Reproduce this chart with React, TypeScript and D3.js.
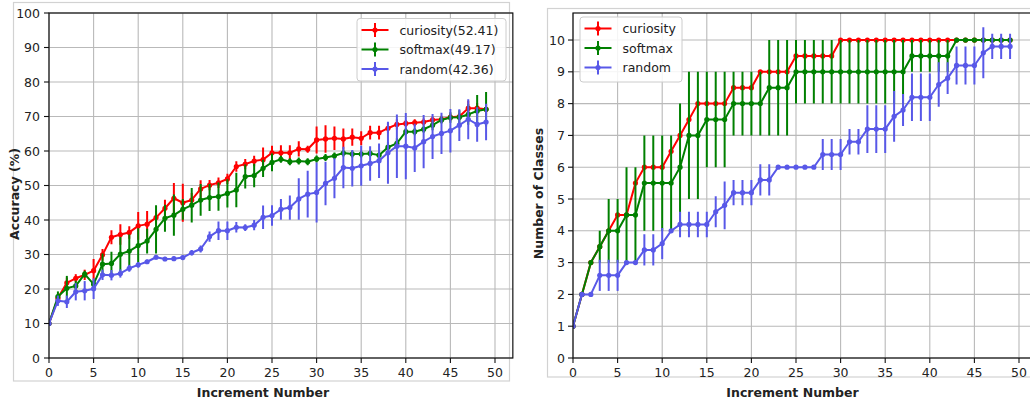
import React from 'react';
import * as d3 from 'd3';

// ---------- data ----------
const xTicks = [0, 5, 10, 15, 20, 25, 30, 35, 40, 45, 50];
const accTicks = [0, 10, 20, 30, 40, 50, 60, 70, 80, 90, 100];
const clsTicks = [0, 1, 2, 3, 4, 5, 6, 7, 8, 9, 10];

const accLabels = ['curiosity(52.41)', 'softmax(49.17)', 'random(42.36)'];
const clsLabels = ['curiosity', 'softmax', 'random'];

const accCuriosity = [10, 17.3, 21.8, 23.1, 24.1, 25.3, 29.9, 35.0, 35.8, 36.4, 38.3, 38.8, 40.7, 43.4, 46.3, 45.0, 45.8, 49.0, 50.1, 50.8, 51.9, 55.5, 56.2, 57.1, 57.5, 59.5, 59.5, 59.5, 60.6, 60.5, 63.2, 63.5, 63.7, 63.5, 64.0, 63.7, 65.3, 65.3, 66.6, 67.7, 68.0, 68.2, 68.4, 69.0, 69.2, 69.8, 70.0, 72.4, 72.4, 72.1];
const accCuriosityErr = [0, 1.2, 1.5, 1.2, 1.5, 3.4, 1.7, 2.0, 3.0, 1.8, 4.0, 3.8, 2.0, 2.5, 4.4, 5.5, 2.0, 2.5, 1.5, 1.5, 1.5, 1.5, 1.5, 1.5, 3.5, 2.0, 2.2, 2.2, 2.2, 1.0, 3.9, 4.0, 3.4, 3.0, 2.5, 2.0, 2.0, 2.0, 1.5, 1.5, 1.0, 1.0, 1.0, 1.0, 1.0, 1.0, 1.0, 2.2, 1.5, 1.5];
const accSoftmax = [10, 17.8, 20.2, 20.9, 24.3, 21.4, 27.2, 27.4, 30.1, 31.0, 32.6, 33.9, 37.3, 40.5, 41.4, 43.1, 44.3, 45.8, 46.5, 46.8, 47.7, 48.7, 52.6, 52.9, 55.0, 56.7, 57.6, 56.9, 57.1, 56.9, 57.7, 58.1, 58.6, 59.4, 59.1, 59.1, 59.3, 58.8, 61.1, 62.2, 65.6, 65.6, 66.3, 67.5, 69.0, 69.7, 69.8, 70.6, 71.6, 72.1];
const accSoftmaxErr = [0, 1.5, 3.6, 1.5, 1.0, 1.0, 3.1, 3.4, 5.0, 4.8, 5.0, 3.6, 7.0, 3.9, 6.0, 3.0, 5.0, 4.6, 3.9, 4.1, 4.1, 5.0, 3.5, 3.4, 2.5, 2.6, 1.0, 1.0, 1.0, 1.0, 1.0, 1.0, 1.0, 1.0, 1.0, 1.0, 1.0, 1.0, 1.5, 1.5, 1.0, 1.0, 1.0, 1.5, 1.0, 1.5, 2.0, 3.0, 4.6, 5.0];
const accRandom = [10, 16.6, 16.3, 19.2, 19.5, 20.1, 24.1, 24.0, 24.5, 26.0, 27.0, 27.9, 29.2, 28.7, 28.8, 29.1, 30.5, 31.6, 35.2, 36.9, 36.9, 37.9, 37.8, 38.5, 40.8, 41.3, 43.1, 43.6, 46.1, 47.5, 48.0, 50.6, 52.1, 55.2, 55.0, 55.7, 56.4, 57.2, 59.5, 61.4, 61.4, 60.9, 62.7, 64.2, 65.1, 65.9, 67.5, 69.2, 67.7, 68.4];
const accRandomErr = [0, 1.5, 1.8, 2.5, 2.8, 3.0, 1.5, 1.5, 1.2, 1.0, 0.8, 0.6, 0.6, 0.6, 0.6, 0.6, 0.8, 1.0, 1.5, 2.7, 2.7, 1.5, 1.0, 1.5, 3.4, 3.0, 3.0, 3.5, 6.0, 6.8, 8.7, 6.3, 5.8, 6.0, 5.3, 5.8, 5.0, 5.0, 9.0, 9.2, 9.6, 7.0, 7.7, 6.5, 6.0, 6.3, 4.6, 5.8, 5.0, 5.3];

const clsCuriosity = [1, 2, 3, 3.5, 4, 4.5, 4.5, 5.5, 6, 6, 6, 6.5, 7, 7.5, 8, 8, 8, 8, 8.5, 8.5, 8.5, 9, 9, 9, 9, 9.5, 9.5, 9.5, 9.5, 9.5, 10, 10, 10, 10, 10, 10, 10, 10, 10, 10, 10, 10, 10, 10, 10, 10, 10, 10, 10, 10];
const clsCuriosityErr = [0, 0, 0, 0, 0, 0, 0, 0, 0, 0, 0, 0, 0, 0, 0, 0, 0, 0, 0, 0, 0, 0, 0, 0, 0, 0, 0, 0, 0, 0, 0, 0, 0, 0, 0, 0, 0, 0, 0, 0, 0, 0, 0, 0, 0, 0, 0, 0, 0, 0];
const clsSoftmax = [1, 2, 3, 3.5, 4, 4, 4.5, 4.5, 5.5, 5.5, 5.5, 5.5, 6, 7, 7, 7.5, 7.5, 7.5, 8, 8, 8, 8, 8.5, 8.5, 8.5, 9, 9, 9, 9, 9, 9, 9, 9, 9, 9, 9, 9, 9, 9.5, 9.5, 9.5, 9.5, 9.5, 10, 10, 10, 10, 10, 10, 10];
const clsSoftmaxErr = [0, 0, 0, 0.5, 1, 1, 1.5, 1.5, 1.5, 1.5, 1.5, 1.5, 2, 2, 2, 1.5, 1.5, 1.5, 1, 1, 1, 1, 1.5, 1.5, 1.5, 1, 1, 1, 1, 1, 1, 1, 1, 1, 1, 1, 1, 1, 0.5, 0.5, 0.5, 0.5, 0.5, 0, 0, 0, 0, 0, 0, 0];
const clsRandom = [1, 2, 2, 2.6, 2.6, 2.6, 3, 3, 3.4, 3.4, 3.6, 4, 4.2, 4.2, 4.2, 4.2, 4.6, 4.8, 5.2, 5.2, 5.2, 5.6, 5.6, 6, 6, 6, 6, 6, 6.4, 6.4, 6.4, 6.8, 6.8, 7.2, 7.2, 7.2, 7.6, 7.8, 8.2, 8.2, 8.2, 8.6, 8.8, 9.2, 9.2, 9.2, 9.6, 9.8, 9.8, 9.8];
const clsRandomErr = [0, 0, 0, 0.49, 0.49, 0.49, 0, 0, 0.49, 0.49, 0.49, 0, 0.4, 0.4, 0.4, 0.4, 0.49, 0.75, 0.4, 0.4, 0.4, 0.49, 0.49, 0, 0, 0, 0, 0, 0.49, 0.49, 0.49, 0.4, 0.4, 0.75, 0.75, 0.75, 0.8, 0.5, 0.75, 0.75, 0.75, 0.7, 0.5, 0.6, 0.6, 0.6, 0.8, 0.4, 0.4, 0.4];

// ---------- styles ----------
const COLORS = ['#ff0000', '#008000', '#5858e8'];
const FONT = '"DejaVu Sans", Verdana, sans-serif';
const GRID = '#b9b9b9';
const TXT = '#222222';

interface SeriesDef { label: string; color: string; values: number[]; errors: number[] }

interface PanelProps {
  id: string;
  frame: { x: number; y: number; w: number; h: number };
  left: number; top: number; bottom: number; pxPerX: number;
  xMax: number; yMax: number;
  yTicks: number[];
  series: SeriesDef[];
  legend: { x: number; y: number; w: number; h: number };
  xLabel: string; xLabelCx: number;
  yLabel: string; yLabelX: number; yLabelCy: number;
  tickLabelEnd: number;
}

function Panel(p: PanelProps) {
  const right = p.left + p.pxPerX * p.xMax;
  const x = d3.scaleLinear().domain([0, p.xMax]).range([p.left, right]);
  const y = d3.scaleLinear().domain([0, p.yMax]).range([p.bottom, p.top]);
  const line = d3.line<number>().x((_, i) => x(i)).y((d) => y(d));
  const clipId = `clip-${p.id}`;
  const rowH = 19.5;
  return (
    <g>
      <rect x={p.frame.x} y={p.frame.y} width={p.frame.w} height={p.frame.h} fill="none" stroke="#d2d2d2" strokeWidth={1.2} />
      <defs>
        <clipPath id={clipId}>
          <rect x={p.left} y={p.top} width={right - p.left} height={p.bottom - p.top} />
        </clipPath>
      </defs>
      {/* grid */}
      <g stroke={GRID} strokeWidth={1.1}>
        {xTicks.map((t) => (
          <line key={`gx${t}`} x1={x(t)} x2={x(t)} y1={p.top} y2={p.bottom} />
        ))}
        {p.yTicks.map((t) => (
          <line key={`gy${t}`} x1={p.left} x2={right} y1={y(t)} y2={y(t)} />
        ))}
      </g>
      {/* series */}
      <g clipPath={`url(#${clipId})`}>
        {p.series.map((s, si) => (
          <g key={si}>
            <path d={line(s.values) || ''} fill="none" stroke={s.color} strokeWidth={2} strokeLinejoin="round" />
            {s.values.map((v, i) =>
              s.errors[i] > 0 ? (
                <line key={`e${i}`} x1={x(i)} x2={x(i)} y1={y(v - s.errors[i])} y2={y(v + s.errors[i])} stroke={s.color} strokeWidth={2} />
              ) : null
            )}
            {s.values.map((v, i) => (
              <circle key={`m${i}`} cx={x(i)} cy={y(v)} r={2.6} fill={s.color} />
            ))}
          </g>
        ))}
      </g>
      {/* spines */}
      <rect x={p.left} y={p.top} width={right - p.left} height={p.bottom - p.top} fill="none" stroke="#111" strokeWidth={1.2} />
      {/* ticks */}
      <g fontFamily={FONT} fontSize={12.5} fill={TXT}>
        {xTicks.map((t) => (
          <g key={`tx${t}`}>
            <line x1={x(t)} x2={x(t)} y1={p.bottom} y2={p.bottom + 5} stroke="#111" strokeWidth={1.1} />
            <text x={x(t)} y={p.bottom + 19} textAnchor="middle">{t}</text>
          </g>
        ))}
        {p.yTicks.map((t) => (
          <g key={`ty${t}`}>
            <line x1={p.left - 5} x2={p.left} y1={y(t)} y2={y(t)} stroke="#111" strokeWidth={1.1} />
            <text x={p.tickLabelEnd} y={y(t)} dy="0.36em" textAnchor="end">{t}</text>
          </g>
        ))}
      </g>
      {/* axis labels */}
      <text x={p.xLabelCx} y={397} textAnchor="middle" fontFamily={FONT} fontSize={12.5} fontWeight="bold" fill={TXT}>
        {p.xLabel}
      </text>
      <text transform={`translate(${p.yLabelX},${p.yLabelCy}) rotate(-90)`} textAnchor="middle" fontFamily={FONT} fontSize={12.5} fontWeight="bold" fill={TXT}>
        {p.yLabel}
      </text>
      {/* legend */}
      <g>
        <rect x={p.legend.x} y={p.legend.y} width={p.legend.w} height={p.legend.h} rx={3} fill="#ffffff" fillOpacity={0.85} stroke="#cccccc" strokeWidth={1} />
        {p.series.map((s, i) => {
          const cy = p.legend.y + 11.5 + i * rowH;
          const hx = p.legend.x + 4.5;
          return (
            <g key={`lg${i}`}>
              <line x1={hx} x2={hx + 27} y1={cy} y2={cy} stroke={s.color} strokeWidth={2} />
              <line x1={hx + 13.5} x2={hx + 13.5} y1={cy - 7} y2={cy + 7} stroke={s.color} strokeWidth={2} />
              <circle cx={hx + 13.5} cy={cy} r={2.6} fill={s.color} />
              <text x={hx + 38} y={cy} dy="0.36em" fontFamily={FONT} fontSize={12.5} fill={TXT}>{s.label}</text>
            </g>
          );
        })}
      </g>
    </g>
  );
}

export default function App() {
  const accSeries: SeriesDef[] = [
    { label: accLabels[0], color: COLORS[0], values: accCuriosity, errors: accCuriosityErr },
    { label: accLabels[1], color: COLORS[1], values: accSoftmax, errors: accSoftmaxErr },
    { label: accLabels[2], color: COLORS[2], values: accRandom, errors: accRandomErr },
  ];
  const clsSeries: SeriesDef[] = [
    { label: clsLabels[0], color: COLORS[0], values: clsCuriosity, errors: clsCuriosityErr },
    { label: clsLabels[1], color: COLORS[1], values: clsSoftmax, errors: clsSoftmaxErr },
    { label: clsLabels[2], color: COLORS[2], values: clsRandom, errors: clsRandomErr },
  ];
  return (
    <svg width={1030} height={400} style={{ position: 'absolute', left: 0, top: 0, background: '#fff' }}>
      <rect x={0} y={0} width={1030} height={400} fill="#ffffff" />
      <Panel
        id="acc"
        frame={{ x: 13.5, y: 2.5, w: 496, h: 378.5 }}
        left={49} top={13} bottom={358} pxPerX={8.92}
        xMax={52} yMax={100}
        yTicks={accTicks}
        series={accSeries}
        legend={{ x: 357, y: 18.5, w: 149, h: 62.5 }}
        xLabel="Increment Number" xLabelCx={263}
        yLabel="Accuracy (%)" yLabelX={19} yLabelCy={194}
        tickLabelEnd={40}
      />
      <Panel
        id="cls"
        frame={{ x: 547.5, y: 8.5, w: 500, h: 368.5 }}
        left={573} top={13} bottom={358} pxPerX={8.92}
        xMax={52} yMax={10.85}
        yTicks={clsTicks}
        series={clsSeries}
        legend={{ x: 580, y: 17, w: 102, h: 65 }}
        xLabel="Increment Number" xLabelCx={792.5}
        yLabel="Number of Classes" yLabelX={543} yLabelCy={193.5}
        tickLabelEnd={565}
      />
    </svg>
  );
}
